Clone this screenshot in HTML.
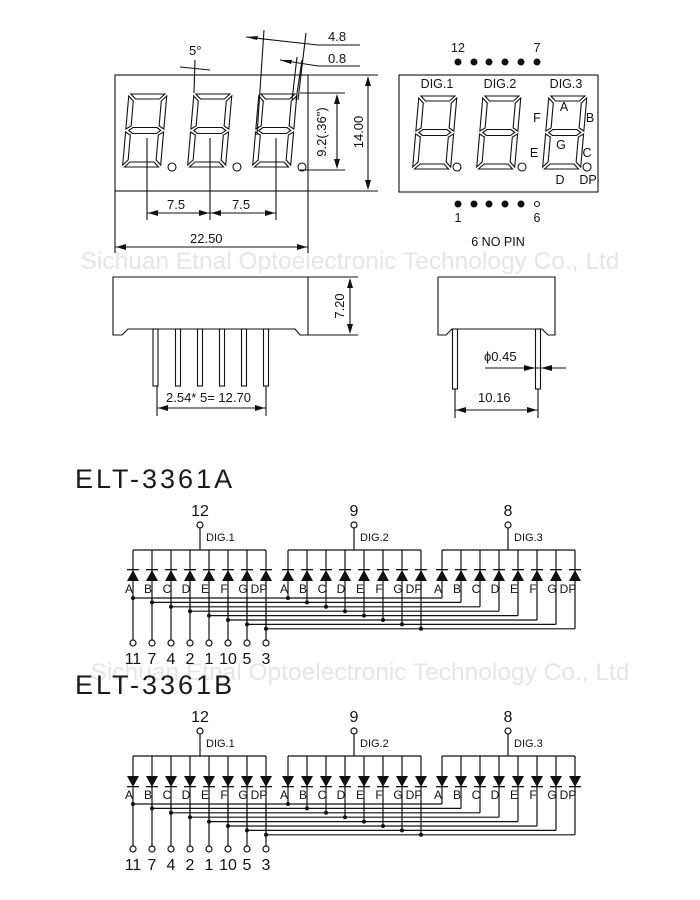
<!DOCTYPE html>
<html><head><meta charset="utf-8"><style>
html,body{margin:0;padding:0;background:#fff;}
svg{display:block;font-family:"Liberation Sans",Arial,sans-serif;}
</style></head><body>
<svg width="700" height="900" viewBox="0 0 700 900" xmlns="http://www.w3.org/2000/svg">
<defs>
<g id="dig" fill="none" stroke="#111" stroke-width="1.1">
<polygon points="3,1 37,1 32,6 8,6"/>
<polygon points="4,37.5 8,34.5 32,34.5 36,37.5 32,40.5 8,40.5"/>
<polygon points="8,69 32,69 37,74 3,74"/>
<polygon points="1,3 6,8 6,33 1,36"/>
<polygon points="39,3 39,36 34,33 34,8"/>
<polygon points="1,39 6,42 6,67 1,72"/>
<polygon points="39,39 39,72 34,67 34,42"/>
</g>
<g id="dup" fill="#111"><rect x="-6" y="569" width="12" height="1.3"/><polygon points="-6,581 6,581 0,570"/></g>
<g id="ddn" fill="#111"><rect x="-6" y="580" width="12" height="1.3"/><polygon points="-6,570 6,570 0,581"/></g>
<g id="lines" stroke="#111" stroke-width="1.2" fill="none">
<line x1="0" y1="550" x2="133" y2="550"/>
<line x1="0" y1="550" x2="0" y2="598"/>
<line x1="19" y1="550" x2="19" y2="602.4"/>
<line x1="38" y1="550" x2="38" y2="606.8"/>
<line x1="57" y1="550" x2="57" y2="611.2"/>
<line x1="76" y1="550" x2="76" y2="615.6"/>
<line x1="95" y1="550" x2="95" y2="620"/>
<line x1="114" y1="550" x2="114" y2="624.4"/>
<line x1="133" y1="550" x2="133" y2="628.8"/>
</g>
<g id="gup"><use href="#lines"/><use href="#dup" x="0"/><use href="#dup" x="19"/><use href="#dup" x="38"/><use href="#dup" x="57"/><use href="#dup" x="76"/><use href="#dup" x="95"/><use href="#dup" x="114"/><use href="#dup" x="133"/></g>
<g id="gdn"><use href="#lines"/><use href="#ddn" x="0"/><use href="#ddn" x="19"/><use href="#ddn" x="38"/><use href="#ddn" x="57"/><use href="#ddn" x="76"/><use href="#ddn" x="95"/><use href="#ddn" x="114"/><use href="#ddn" x="133"/></g>
<g id="common" stroke="#111" stroke-width="1.2" fill="none">
<line x1="133" y1="598" x2="442" y2="598"/>
<line x1="152" y1="602.4" x2="461" y2="602.4"/>
<line x1="171" y1="606.8" x2="480" y2="606.8"/>
<line x1="190" y1="611.2" x2="499" y2="611.2"/>
<line x1="209" y1="615.6" x2="518" y2="615.6"/>
<line x1="228" y1="620" x2="537" y2="620"/>
<line x1="247" y1="624.4" x2="556" y2="624.4"/>
<line x1="266" y1="628.8" x2="575" y2="628.8"/>
<line x1="133" y1="598" x2="133" y2="640"/><line x1="152" y1="598" x2="152" y2="640"/><line x1="171" y1="598" x2="171" y2="640"/><line x1="190" y1="598" x2="190" y2="640"/><line x1="209" y1="598" x2="209" y2="640"/><line x1="228" y1="598" x2="228" y2="640"/><line x1="247" y1="598" x2="247" y2="640"/><line x1="266" y1="598" x2="266" y2="640"/>
<circle cx="133" cy="643" r="3"/><circle cx="152" cy="643" r="3"/><circle cx="171" cy="643" r="3"/><circle cx="190" cy="643" r="3"/><circle cx="209" cy="643" r="3"/><circle cx="228" cy="643" r="3"/><circle cx="247" cy="643" r="3"/><circle cx="266" cy="643" r="3"/>
<line x1="200" y1="528" x2="200" y2="550"/><circle cx="200" cy="525" r="3"/>
<line x1="354" y1="528" x2="354" y2="550"/><circle cx="354" cy="525" r="3"/>
<line x1="508" y1="528" x2="508" y2="550"/><circle cx="508" cy="525" r="3"/>
</g>
<g id="dots" fill="#111">
<circle cx="133" cy="598" r="2"/><circle cx="152" cy="602.4" r="2"/><circle cx="171" cy="606.8" r="2"/><circle cx="190" cy="611.2" r="2"/><circle cx="209" cy="615.6" r="2"/><circle cx="228" cy="620" r="2"/><circle cx="247" cy="624.4" r="2"/><circle cx="266" cy="628.8" r="2"/>
<circle cx="288" cy="598" r="2"/><circle cx="307" cy="602.4" r="2"/><circle cx="326" cy="606.8" r="2"/><circle cx="345" cy="611.2" r="2"/><circle cx="364" cy="615.6" r="2"/><circle cx="383" cy="620" r="2"/><circle cx="402" cy="624.4" r="2"/><circle cx="421" cy="628.8" r="2"/>
</g>
</defs>

<!-- watermarks -->
<text x="350" y="269" font-size="24.5" fill="#e6e6e6" text-anchor="middle">Sichuan Etnal Optoelectronic Technology Co., Ltd</text>
<text x="360" y="680" font-size="24.5" fill="#e6e6e6" text-anchor="middle">Sichuan Etnal Optoelectronic Technology Co., Ltd</text>

<!-- top view left -->
<g stroke="#111" stroke-width="1.1" fill="none">
<rect x="115" y="75" width="193" height="116"/>
<line x1="308" y1="75" x2="378" y2="75"/><line x1="308" y1="191" x2="378" y2="191"/>
<line x1="368" y1="78" x2="368" y2="188"/>
<line x1="300" y1="93" x2="345" y2="93"/><line x1="300" y1="170" x2="345" y2="170"/>
<line x1="337" y1="96" x2="337" y2="167"/>
<line x1="147" y1="138" x2="147" y2="220"/><line x1="210" y1="138" x2="210" y2="220"/><line x1="276" y1="138" x2="276" y2="220"/>
<line x1="147" y1="213" x2="276" y2="213"/>
<line x1="115" y1="191" x2="115" y2="253"/><line x1="308" y1="191" x2="308" y2="253"/>
<line x1="115" y1="247" x2="308" y2="247"/>
<line x1="195" y1="60" x2="194" y2="93"/>
<line x1="180" y1="67" x2="210" y2="70"/>
<line x1="264" y1="30" x2="257" y2="135"/>
<line x1="306" y1="33" x2="298" y2="100"/>
<line x1="246" y1="37" x2="318" y2="45"/><line x1="318" y1="45" x2="360" y2="45"/>
<line x1="280" y1="60" x2="318" y2="66"/><line x1="318" y1="66" x2="360" y2="66"/>
<line x1="297" y1="57" x2="292" y2="100"/><line x1="302" y1="60" x2="296" y2="100"/>
</g>
<g fill="#111">
<polygon points="368,76 365,86 371,86"/><polygon points="368,190 365,180 371,180"/>
<polygon points="337,94 334,104 340,104"/><polygon points="337,169 334,159 340,159"/>
<polygon points="148,213 158,210 158,216"/><polygon points="209,213 199,210 199,216"/>
<polygon points="211,213 221,210 221,216"/><polygon points="275,213 265,210 265,216"/>
<polygon points="116,247 126,244 126,250"/><polygon points="307,247 297,244 297,250"/>
<polygon points="246,37 258,36 257,40"/><polygon points="280,60 292,60 291,64"/>
</g>
<use href="#dig" transform="translate(128,93) skewX(-5)"/>
<use href="#dig" transform="translate(193,93) skewX(-5)"/>
<use href="#dig" transform="translate(258,93) skewX(-5)"/>
<g fill="none" stroke="#111" stroke-width="1.1"><circle cx="172" cy="167" r="4"/><circle cx="237" cy="167" r="4"/><circle cx="302" cy="167" r="4"/></g>
<g font-size="13" fill="#111">
<text x="189" y="55">5°</text>
<text x="328" y="41">4.8</text>
<text x="328" y="63">0.8</text>
<text x="167" y="209">7.5</text>
<text x="232" y="209">7.5</text>
<text x="190" y="243">22.50</text>
<text transform="translate(326,132) rotate(-90)" text-anchor="middle">9.2(.36")</text>
<text transform="translate(363,132) rotate(-90)" text-anchor="middle">14.00</text>
</g>

<!-- top view right -->
<rect x="399" y="75" width="199" height="117" fill="none" stroke="#111" stroke-width="1.1"/>
<use href="#dig" transform="translate(418,95) skewX(-5)"/>
<use href="#dig" transform="translate(482,95) skewX(-5)"/>
<use href="#dig" transform="translate(548,95) skewX(-5)"/>
<g fill="none" stroke="#111" stroke-width="1.1"><circle cx="457" cy="167" r="4"/><circle cx="522" cy="167" r="4"/><circle cx="587" cy="167" r="4"/><circle cx="537" cy="204" r="2.5"/></g>
<g fill="#111">
<circle cx="458" cy="62" r="3.5"/><circle cx="474" cy="62" r="3.5"/><circle cx="489" cy="62" r="3.5"/><circle cx="505" cy="62" r="3.5"/><circle cx="521" cy="62" r="3.5"/><circle cx="537" cy="62" r="3.5"/>
<circle cx="458" cy="204" r="3.5"/><circle cx="474" cy="204" r="3.5"/><circle cx="489" cy="204" r="3.5"/><circle cx="505" cy="204" r="3.5"/><circle cx="521" cy="204" r="3.5"/>
</g>
<g font-size="12.5" fill="#111" text-anchor="middle">
<text x="458" y="52">12</text><text x="537" y="52">7</text>
<text x="458" y="222">1</text><text x="537" y="222">6</text>
<text x="498" y="246">6  NO PIN</text>
<text x="437" y="88">DIG.1</text><text x="500" y="88">DIG.2</text><text x="566" y="88">DIG.3</text>
<text x="564" y="111">A</text><text x="537" y="122">F</text><text x="590" y="122">B</text>
<text x="561" y="149">G</text><text x="534" y="157">E</text><text x="587" y="157">C</text>
<text x="560" y="184">D</text><text x="588" y="184">DP</text>
</g>

<!-- side views -->
<g stroke="#111" stroke-width="1.1" fill="none">
<path d="M113 277 H308 V335 H300 L295 329 H128 L122 335 H113 Z"/>
<line x1="308" y1="277" x2="358" y2="277"/><line x1="308" y1="335" x2="358" y2="335"/>
<line x1="350" y1="280" x2="350" y2="332"/>
<rect x="153" y="329" width="5" height="57"/><rect x="175.5" y="329" width="5" height="57"/><rect x="197.5" y="329" width="5" height="57"/><rect x="219.5" y="329" width="5" height="57"/><rect x="241.5" y="329" width="5" height="57"/><rect x="263.5" y="329" width="5" height="57"/>
<line x1="157" y1="386" x2="157" y2="416"/><line x1="266" y1="386" x2="266" y2="416"/>
<line x1="157" y1="408" x2="266" y2="408"/>
<path d="M438 277 H555 V335 H548 L542 329 H452 L446 335 H438 Z"/>
<rect x="452.5" y="329" width="5" height="60"/><rect x="535.5" y="329" width="5" height="60"/>
<line x1="455" y1="389" x2="455" y2="418"/><line x1="538" y1="389" x2="538" y2="418"/>
<line x1="455" y1="410" x2="538" y2="410"/>
<line x1="485" y1="368" x2="566" y2="368"/>
</g>
<g fill="#111">
<polygon points="350,278 347,288 353,288"/><polygon points="350,334 347,324 353,324"/>
<polygon points="158,408 168,405 168,411"/><polygon points="265,408 255,405 255,411"/>
<polygon points="456,410 466,407 466,413"/><polygon points="537,410 527,407 527,413"/>
<polygon points="535,368 524,365 524,371"/><polygon points="541,368 552,365 552,371"/>
</g>
<g font-size="13" fill="#111">
<text x="166" y="402">2.54* 5= 12.70</text>
<text x="478" y="402">10.16</text>
<text x="484" y="361">ϕ0.45</text>
<text transform="translate(344,306) rotate(-90)" text-anchor="middle">7.20</text>
</g>

<!-- titles -->
<text x="75" y="488" font-size="27" letter-spacing="3" fill="#1a1a1a">ELT-3361A</text>
<text x="75" y="694" font-size="27" letter-spacing="3" fill="#1a1a1a">ELT-3361B</text>

<!-- schematic A -->
<g>
<use href="#gup" x="133"/><use href="#gup" x="288"/><use href="#gup" x="442"/>
<use href="#common"/><use href="#dots"/>
<g font-size="16" fill="#111" text-anchor="middle">
<text x="200" y="516">12</text><text x="354" y="516">9</text><text x="508" y="516">8</text>
<text x="133" y="664">11</text><text x="152" y="664">7</text><text x="171" y="664">4</text><text x="190" y="664">2</text><text x="209" y="664">1</text><text x="228" y="664">10</text><text x="247" y="664">5</text><text x="266" y="664">3</text>
</g>
<g font-size="11" fill="#111">
<text x="206" y="541">DIG.1</text><text x="360" y="541">DIG.2</text><text x="514" y="541">DIG.3</text>
</g>
<g font-size="12" fill="#111" text-anchor="middle">
<text x="129" y="593">A</text><text x="148" y="593">B</text><text x="167" y="593">C</text><text x="186" y="593">D</text><text x="205" y="593">E</text><text x="224" y="593">F</text><text x="243" y="593">G</text><text x="259" y="593">DP</text>
<text x="284" y="593">A</text><text x="303" y="593">B</text><text x="322" y="593">C</text><text x="341" y="593">D</text><text x="360" y="593">E</text><text x="379" y="593">F</text><text x="398" y="593">G</text><text x="414" y="593">DP</text>
<text x="438" y="593">A</text><text x="457" y="593">B</text><text x="476" y="593">C</text><text x="495" y="593">D</text><text x="514" y="593">E</text><text x="533" y="593">F</text><text x="552" y="593">G</text><text x="568" y="593">DP</text>
</g>
</g>

<!-- schematic B -->
<g transform="translate(0,206)">
<use href="#gdn" x="133"/><use href="#gdn" x="288"/><use href="#gdn" x="442"/>
<use href="#common"/><use href="#dots"/>
<g font-size="16" fill="#111" text-anchor="middle">
<text x="200" y="516">12</text><text x="354" y="516">9</text><text x="508" y="516">8</text>
<text x="133" y="664">11</text><text x="152" y="664">7</text><text x="171" y="664">4</text><text x="190" y="664">2</text><text x="209" y="664">1</text><text x="228" y="664">10</text><text x="247" y="664">5</text><text x="266" y="664">3</text>
</g>
<g font-size="11" fill="#111">
<text x="206" y="541">DIG.1</text><text x="360" y="541">DIG.2</text><text x="514" y="541">DIG.3</text>
</g>
<g font-size="12" fill="#111" text-anchor="middle">
<text x="129" y="593">A</text><text x="148" y="593">B</text><text x="167" y="593">C</text><text x="186" y="593">D</text><text x="205" y="593">E</text><text x="224" y="593">F</text><text x="243" y="593">G</text><text x="259" y="593">DP</text>
<text x="284" y="593">A</text><text x="303" y="593">B</text><text x="322" y="593">C</text><text x="341" y="593">D</text><text x="360" y="593">E</text><text x="379" y="593">F</text><text x="398" y="593">G</text><text x="414" y="593">DP</text>
<text x="438" y="593">A</text><text x="457" y="593">B</text><text x="476" y="593">C</text><text x="495" y="593">D</text><text x="514" y="593">E</text><text x="533" y="593">F</text><text x="552" y="593">G</text><text x="568" y="593">DP</text>
</g>
</g>
</svg>
</body></html>
